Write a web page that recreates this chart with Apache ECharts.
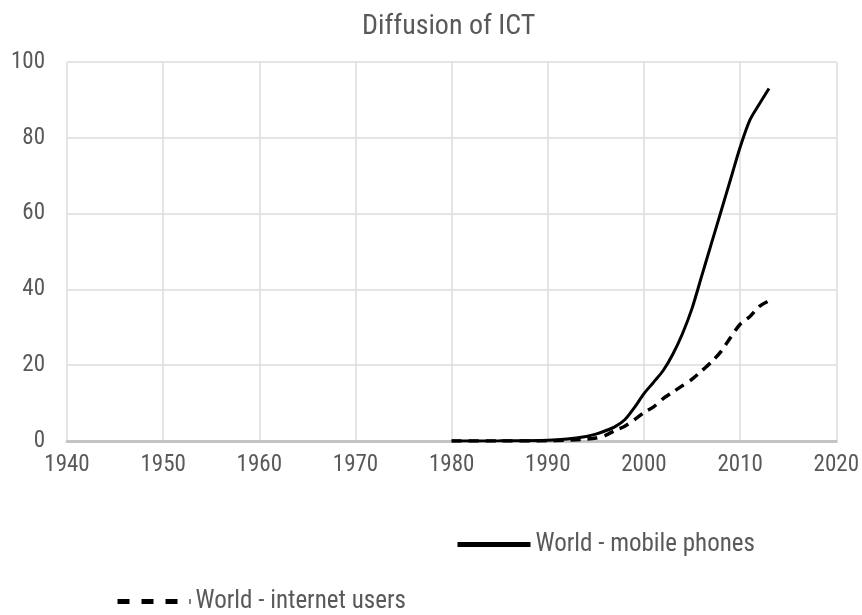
<!DOCTYPE html>
<html>
<head>
<meta charset="utf-8">
<script src="https://cdn.jsdelivr.net/npm/echarts@6/dist/echarts.min.js"></script>
<style>
  html, body { margin: 0; padding: 0; background: #fff; }
  #chart { width: 862px; height: 615px; }
</style>
</head>
<body>
<div id="chart"></div>
<script>
// Share of world population (%)
const mobileYears = [1980, 1985, 1990, 1992, 1994, 1995, 1996, 1997, 1998, 1999, 2000, 2001, 2002, 2003, 2004, 2005, 2006, 2007, 2008, 2009, 2010, 2011, 2012, 2013];
const mobileValues = [0, 0.05, 0.2, 0.5, 1.2, 1.8, 2.7, 3.8, 5.6, 8.8, 12.5, 15.5, 18.6, 22.9, 28.3, 35, 43.5, 52, 60.5, 69, 77.5, 84.6, 88.9, 93];

const internetYears = [1980, 1985, 1990, 1992, 1994, 1995, 1996, 1997, 1998, 1999, 2000, 2001, 2002, 2003, 2004, 2005, 2006, 2007, 2008, 2009, 2010, 2011, 2012, 2013];
const internetValues = [0, 0, 0.05, 0.2, 0.5, 0.8, 1.5, 2.8, 3.9, 5.6, 7.5, 9, 11.2, 12.9, 14.6, 16.3, 18.5, 20.8, 23.6, 27.3, 30.8, 32.8, 35.5, 37];

const xTicks = [1940, 1950, 1960, 1970, 1980, 1990, 2000, 2010, 2020];
const yTicks = [0, 20, 40, 60, 80, 100];

const titleText = 'Diffusion of ICT';
const mobileName = 'World - mobile phones';
const internetName = 'World - internet users';

const FONT = '"Roboto Condensed", "Open Sans", sans-serif';
const TEXT = '#595959';

const pairs = (xs, ys) => xs.map((x, i) => [x, ys[i]]);

const legendText = { color: TEXT, fontFamily: FONT, fontSize: 25, padding: [0, 0, 0, 0] };

const chart = echarts.init(document.getElementById('chart'), null, { renderer: 'canvas' });
chart.setOption({
  animation: false,
  backgroundColor: '#ffffff',
  title: {
    text: titleText,
    left: 357,
    top: 8,
    textStyle: { color: TEXT, fontFamily: FONT, fontSize: 28, fontWeight: 'normal' }
  },
  legend: [
    {
      data: [mobileName], left: 450, top: 527,
      itemWidth: 73, itemHeight: 14,
      itemStyle: { opacity: 0 },
      lineStyle: { width: 5 },
      textStyle: legendText
    },
    {
      data: [internetName], left: 110, top: 584,
      itemWidth: 73, itemHeight: 14,
      itemStyle: { opacity: 0 },
      lineStyle: { width: 5, type: [12, 12] },
      textStyle: legendText
    }
  ],
  grid: { left: 67, right: 22, top: 62, bottom: 174, containLabel: false },
  xAxis: {
    type: 'value',
    min: xTicks[0],
    max: xTicks[xTicks.length - 1],
    interval: 10,
    axisLine: { show: true, lineStyle: { color: '#c4c4c4', width: 3 } },
    axisTick: { show: false },
    axisLabel: { color: TEXT, fontFamily: FONT, fontSize: 23, margin: 13, formatter: v => String(v) },
    splitLine: { show: true, lineStyle: { color: '#dcdcdc', width: 1.5 } }
  },
  yAxis: {
    type: 'value',
    min: yTicks[0],
    max: yTicks[yTicks.length - 1],
    interval: 20,
    axisLine: { show: false },
    axisTick: { show: false },
    axisLabel: { color: TEXT, fontFamily: FONT, fontSize: 23, margin: 22, formatter: v => String(v) },
    splitLine: { show: true, lineStyle: { color: '#dcdcdc', width: 1.5 } }
  },
  series: [
    {
      name: mobileName,
      type: 'line',
      data: pairs(mobileYears, mobileValues),
      smooth: 0.3,
      symbol: 'none',
      lineStyle: { color: '#000000', width: 3 },
      itemStyle: { color: '#000000' },
      z: 3
    },
    {
      name: internetName,
      type: 'line',
      data: pairs(internetYears, internetValues),
      smooth: 0.25,
      symbol: 'none',
      lineStyle: { color: '#000000', width: 3.5, type: [10, 7] },
      itemStyle: { color: '#000000' },
      z: 2
    }
  ]
});
</script>
</body>
</html>
